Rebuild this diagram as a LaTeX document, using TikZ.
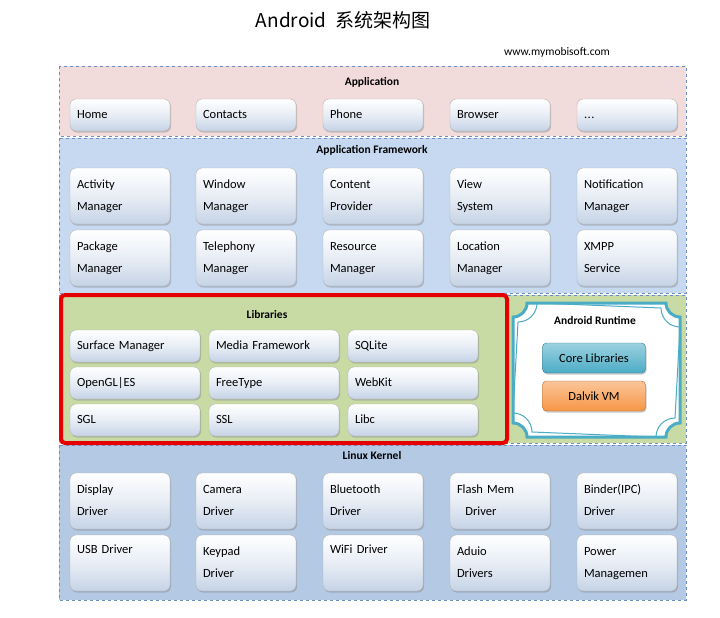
\documentclass[tikz,border=0pt]{standalone}
\usepackage{fontspec}
\setmainfont{Carlito}
\newfontfamily\cjk{Noto Sans CJK SC}
\usetikzlibrary{shadows}
\definecolor{bandpink}{HTML}{F2DCDB}
\definecolor{bandblue}{HTML}{C6D9F1}
\definecolor{bandgreen}{HTML}{C9DBA5}
\definecolor{bandkern}{HTML}{B4C9E4}
\definecolor{bord}{HTML}{6F8FC0}
\definecolor{teal}{HTML}{4BACC6}
\definecolor{orng}{HTML}{F79646}
\definecolor{boxbot}{HTML}{C5D3E6}
\newcommand\tdots{.\kern0.5pt.\kern0.5pt.}
\begin{document}
\begin{tikzpicture}[x=1pt,y=-1pt,
  band/.style={draw=bord,dashed,line width=0.8pt},
  box/.style={draw=gray!60,rounded corners=6pt,top color=white,bottom color=boxbot,middle color=white!60!boxbot,
    drop shadow={shadow xshift=1pt,shadow yshift=-1.5pt,opacity=0.4},
    minimum height=#1,align=left,text width=86pt,inner xsep=7pt,font=\fontsize{12.5}{22}\selectfont,
    execute at begin node={\rule{0pt}{9.5pt}},execute at end node={\rule[-3.5pt]{0pt}{3.5pt}}},
  box/.default=32pt,
  lbox/.style={box,text width=116pt},
  ttl/.style={font=\bfseries\fontsize{11.5}{13}\selectfont}]
\useasboundingbox (0,0) rectangle (720,618);
\node[font=\cjk\fontsize{19}{22}\selectfont] (title) at (343,20) {Android\ \ 系统架构图};
\node[font=\fontsize{11.5}{13}\selectfont] (url) at (557,52) {www.mymobisoft.com};
% bands
\fill[bandpink] (59,66) rectangle (686,136);
\fill[bandblue] (59,138) rectangle (686,293);
\fill[bandgreen] (59,295) rectangle (686,443);
\fill[bandkern] (59,445) rectangle (686,600);
\draw[band] (59,66) rectangle (686,136);
\draw[band] (59,138) rectangle (686,293);
\draw[band] (59,295) rectangle (686,443);
\draw[band] (59,445) rectangle (686,600);
\node[ttl] (lapp) at (372,82) {Application};
\node[ttl] (lfw) at (372,150) {Application Framework};
\node[ttl] (lker) at (372,456) {Linux Kernel};
% application row
\foreach \n/\x/\t in {a1/120/Home,a2/246/Contacts,a3/373/Phone,a4/500/Browser,a5/627/\tdots}
  \node[box] (\n) at (\x,115) {\t};
% framework
\foreach \n/\x/\t in {f1/120/Activity\\Manager,f2/246/Window\\Manager,f3/373/Content\\Provider,f4/500/View\\System,f5/627/Notification\\Manager}
  \node[box=56pt] (\n) at (\x,196) {\t};
\foreach \n/\x/\t in {g1/120/Package\\Manager,g2/246/Telephony\\Manager,g3/373/Resource\\Manager,g4/500/Location\\Manager,g5/627/XMPP\\Service}
  \node[box=56pt] (\n) at (\x,258) {\t};
% kernel
\foreach \n/\x/\t in {k1/120/Display\\Driver,k2/246/Camera\\Driver,k3/373/Bluetooth\\Driver,k4/500/Flash Mem\\\ \ Driver,k5/627/Binder(IPC)\\Driver}
  \node[box=56pt] (\n) at (\x,501) {\t};
\foreach \n/\x/\t in {m1/120/USB Driver\\\strut,m2/246/Keypad\\Driver,m3/373/WiFi Driver\\\strut,m4/500/Aduio\\Drivers,m5/627/Power\\Managemen}
  \node[box=56pt] (\n) at (\x,563) {\t};
% libraries
\draw[red!90!black,line width=4pt,rounded corners=4pt] (61,295) rectangle (507,443);
\node[ttl] (llib) at (267,315) {Libraries};
\foreach \n/\x/\y/\t in {l1/135/346/Surface Manager,l2/274/346/Media Framework,l3/413/346/SQLite,
  l4/135/383/OpenGL|ES,l5/274/383/FreeType,l6/413/383/WebKit,
  l7/135/420/SGL,l8/274/420/SSL,l9/413/420/Libc}
  \node[lbox] (\n) at (\x,\y) {\t};
% runtime frame
\def\rtframe#1{(513+#1,303+14+#1) arc[start angle=90,end angle=0,radius=14+#1] -- (680-14-#1,303+#1)
  arc[start angle=180,end angle=90,radius=14+#1] -- (680-#1,437-14-#1)
  arc[start angle=270,end angle=180,radius=14+#1] -- (513+14+#1,437-#1)
  arc[start angle=0,end angle=-90,radius=14+#1] -- cycle}
\fill[white,draw=teal,line width=3pt] \rtframe{0};
\draw[teal,line width=1pt] \rtframe{5};
\node[ttl] (lrt) at (595,320) {Android Runtime};
\node[draw=teal!70!black,rounded corners=4pt,top color=teal!55,bottom color=teal,minimum width=103pt,minimum height=30pt,font=\fontsize{12.5}{14}\selectfont,drop shadow={shadow xshift=1pt,shadow yshift=-1.5pt,opacity=0.4}] (core) at (594,358) {Core Libraries};
\node[draw=orng!70!black,rounded corners=4pt,top color=orng!55,bottom color=orng,minimum width=103pt,minimum height=30pt,font=\fontsize{12.5}{14}\selectfont,drop shadow={shadow xshift=1pt,shadow yshift=-1.5pt,opacity=0.4}] (dvm) at (594,396) {Dalvik VM\hspace{15pt}};
\end{tikzpicture}
\end{document}
